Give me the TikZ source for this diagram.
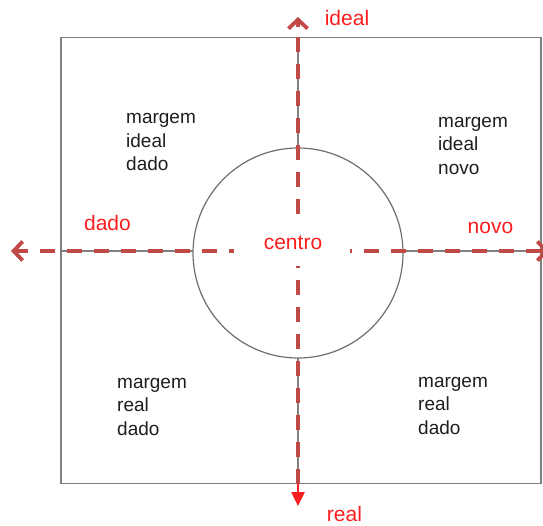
\documentclass[tikz,border=0pt]{standalone}
\usepackage{fontspec}
\setmainfont{Liberation Sans}
\usetikzlibrary{arrows.meta,calc}
\definecolor{axisred}{RGB}{192,72,70}
\definecolor{labelred}{RGB}{250,30,30}
\definecolor{framegray}{RGB}{128,128,128}
\definecolor{circlegray}{RGB}{110,110,110}
\definecolor{textdark}{RGB}{30,30,30}
\begin{document}
\begin{tikzpicture}[x=1pt,y=-1pt,
  frame/.style={draw=framegray, line width=1.6pt, inner sep=0pt},
  ring/.style={circle, draw=circlegray, line width=1.2pt, inner sep=0pt},
  axisline/.style={draw=framegray, line width=1.2pt},
  dashaxis/.style={draw=axisred, line width=4pt, dash pattern=on 15pt off 12pt},
  barbend/.style={draw=axisred, line width=4pt, -{Straight Barb[length=9pt,width=19pt,line width=3.8pt]}},
  redlabel/.style={text=labelred, font=\fontsize{21}{25}\selectfont, inner sep=0pt},
  quadtext/.style={text=textdark, align=left, anchor=base west, inner sep=0pt,
    font=\fontsize{19}{23.5}\selectfont},
]
\useasboundingbox (0,0) rectangle (543,525);
\clip (0,0) rectangle (543,525);

% frame and circle
\node[frame, minimum width=480pt, minimum height=446pt] (sq) at (301,260.5) {};
\node[ring, minimum size=210pt] (c) at (298,253) {};

% axis end points
\coordinate (ttip) at (298,17);
\coordinate (tin) at (298,37.5);
\coordinate (bin) at (298,483.5);
\coordinate (btip) at (298,506);
\coordinate (ltip) at (11,251);
\coordinate (lin) at (61,251);
\coordinate (rin) at (541,251);
\coordinate (rtip) at (549,251);
\coordinate (cT) at (298,148);
\coordinate (cB) at (298,358);
\coordinate (cL) at (193,251);
\coordinate (cR) at (403,251);

% thin gray axes outside the circle
\draw[axisline] (tin) -- (cT);
\draw[axisline] (cB) -- (bin);
\draw[axisline] (lin) -- (cL);
\draw[axisline] (cR) -- (rin);

% dashed red axes
\draw[dashaxis] (bin) -- ($(ttip)+(0,8)$);
\draw[barbend] ($(ttip)+(0,10)$) -- (ttip);
\draw[dashaxis] (rin) -- ($(ltip)+(8,0)$);
\draw[barbend] ($(ltip)+(10,0)$) -- (ltip);
\draw[barbend] ($(rtip)-(10,0)$) -- (rtip);
\draw[draw=labelred, line width=2.5pt, -{Triangle[length=14pt,width=13pt]}] (bin) -- (btip);

% centre label
\node[fill=white, inner sep=0pt, minimum width=116pt, minimum height=52pt] (centrobg) at (292,240) {};
\node[redlabel] (centro) at (293,243) {centro};

% axis labels
\node[redlabel] (ideal) at (347,18) {ideal};
\node[redlabel] (dado) at (107.5,223) {dado};
\node[redlabel] (novo) at (490.5,228) {novo};
\node[redlabel] (real) at (344.5,514) {real};

% quadrant texts (anchor is the baseline of the last line)
\node[quadtext] (tl) at (126,170.5) {margem\\ideal\\dado};
\node[quadtext] (tr) at (438,174) {margem\\ideal\\novo};
\node[quadtext] (bl) at (117,435) {margem\\real\\dado};
\node[quadtext] (br) at (418,434) {margem\\real\\dado};
\end{tikzpicture}
\end{document}
